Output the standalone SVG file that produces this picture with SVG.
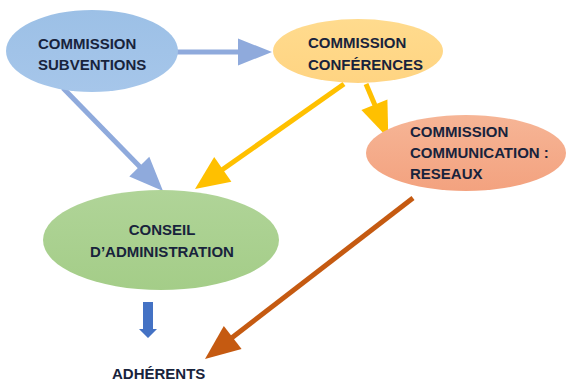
<svg xmlns="http://www.w3.org/2000/svg" width="567" height="382" viewBox="0 0 567 382">
<defs>
<style>
.t{font-family:"Liberation Sans",Arial,sans-serif;font-weight:bold;font-size:15px;fill:#18233c}
.c{text-anchor:middle}
.blue{stroke:#8faadc;stroke-width:5;fill:none}
.yel{stroke:#ffc000;stroke-width:5;fill:none}
.org{stroke:#c55a11;stroke-width:5;fill:none}
</style>
<linearGradient id="gB" x1="0" y1="0" x2="0" y2="1"><stop offset="0" stop-color="#9cc0e6"/><stop offset="1" stop-color="#a6c6ea"/></linearGradient>
<linearGradient id="gY" x1="0" y1="0" x2="0" y2="1"><stop offset="0" stop-color="#ffdb8e"/><stop offset="1" stop-color="#ffd482"/></linearGradient>
<linearGradient id="gS" x1="0" y1="0" x2="0" y2="1"><stop offset="0" stop-color="#f6b596"/><stop offset="1" stop-color="#f3a27f"/></linearGradient>
<linearGradient id="gG" x1="0" y1="0" x2="0" y2="1"><stop offset="0" stop-color="#b0d498"/><stop offset="1" stop-color="#a4cd88"/></linearGradient>
</defs>
<rect width="567" height="382" fill="#ffffff"/>
<g id="connectors">
<line class="blue" x1="169" y1="52" x2="242" y2="52"/>
<polygon points="272,52 238,38.5 238,65.5" fill="#8faadc"/>
<line class="blue" x1="63" y1="88" x2="143" y2="170"/>
<polygon points="163,191 149.3,156.8 129.3,176.4" fill="#8faadc"/>
<line class="yel" x1="344" y1="84" x2="219" y2="172"/>
<polygon points="195,189 231.4,181.7 214.2,157.1" fill="#ffc000"/>
<line class="yel" x1="366" y1="84" x2="377" y2="110"/>
<polygon points="388.3,138.3 387.4,99.4 361.4,110" fill="#ffc000"/>
<line class="org" x1="413" y1="198" x2="229" y2="340"/>
<polygon points="205,359 241.6,349.1 223.8,326.1" fill="#c55a11"/>
<polygon points="143,302 153,302 153,329 157,329 148,338 139,329 143,329" fill="#4472c4"/>
</g>
<g id="n-subventions">
<ellipse cx="92" cy="51" rx="86" ry="41" fill="url(#gB)"/>
<text class="t" x="38" y="48.5">COMMISSION</text>
<text class="t" x="38" y="70">SUBVENTIONS</text>
</g>
<g id="n-conferences">
<ellipse cx="358" cy="51" rx="85" ry="32" fill="url(#gY)"/>
<text class="t" x="308" y="48">COMMISSION</text>
<text class="t" x="308" y="70">CONFÉRENCES</text>
</g>
<g id="n-communication">
<ellipse cx="466" cy="153" rx="100" ry="38" fill="url(#gS)"/>
<text class="t" x="410" y="137">COMMISSION</text>
<text class="t" x="410" y="158">COMMUNICATION :</text>
<text class="t" x="410" y="179">RESEAUX</text>
</g>
<g id="n-conseil">
<ellipse cx="161" cy="240" rx="118" ry="50" fill="url(#gG)"/>
<text class="t c" x="162" y="235">CONSEIL</text>
<text class="t c" x="162" y="256.5">D’ADMINISTRATION</text>
</g>
<g id="n-adherents">
<text class="t" x="112" y="378.5" font-size="14">ADHÉRENTS</text>
</g>
</svg>
